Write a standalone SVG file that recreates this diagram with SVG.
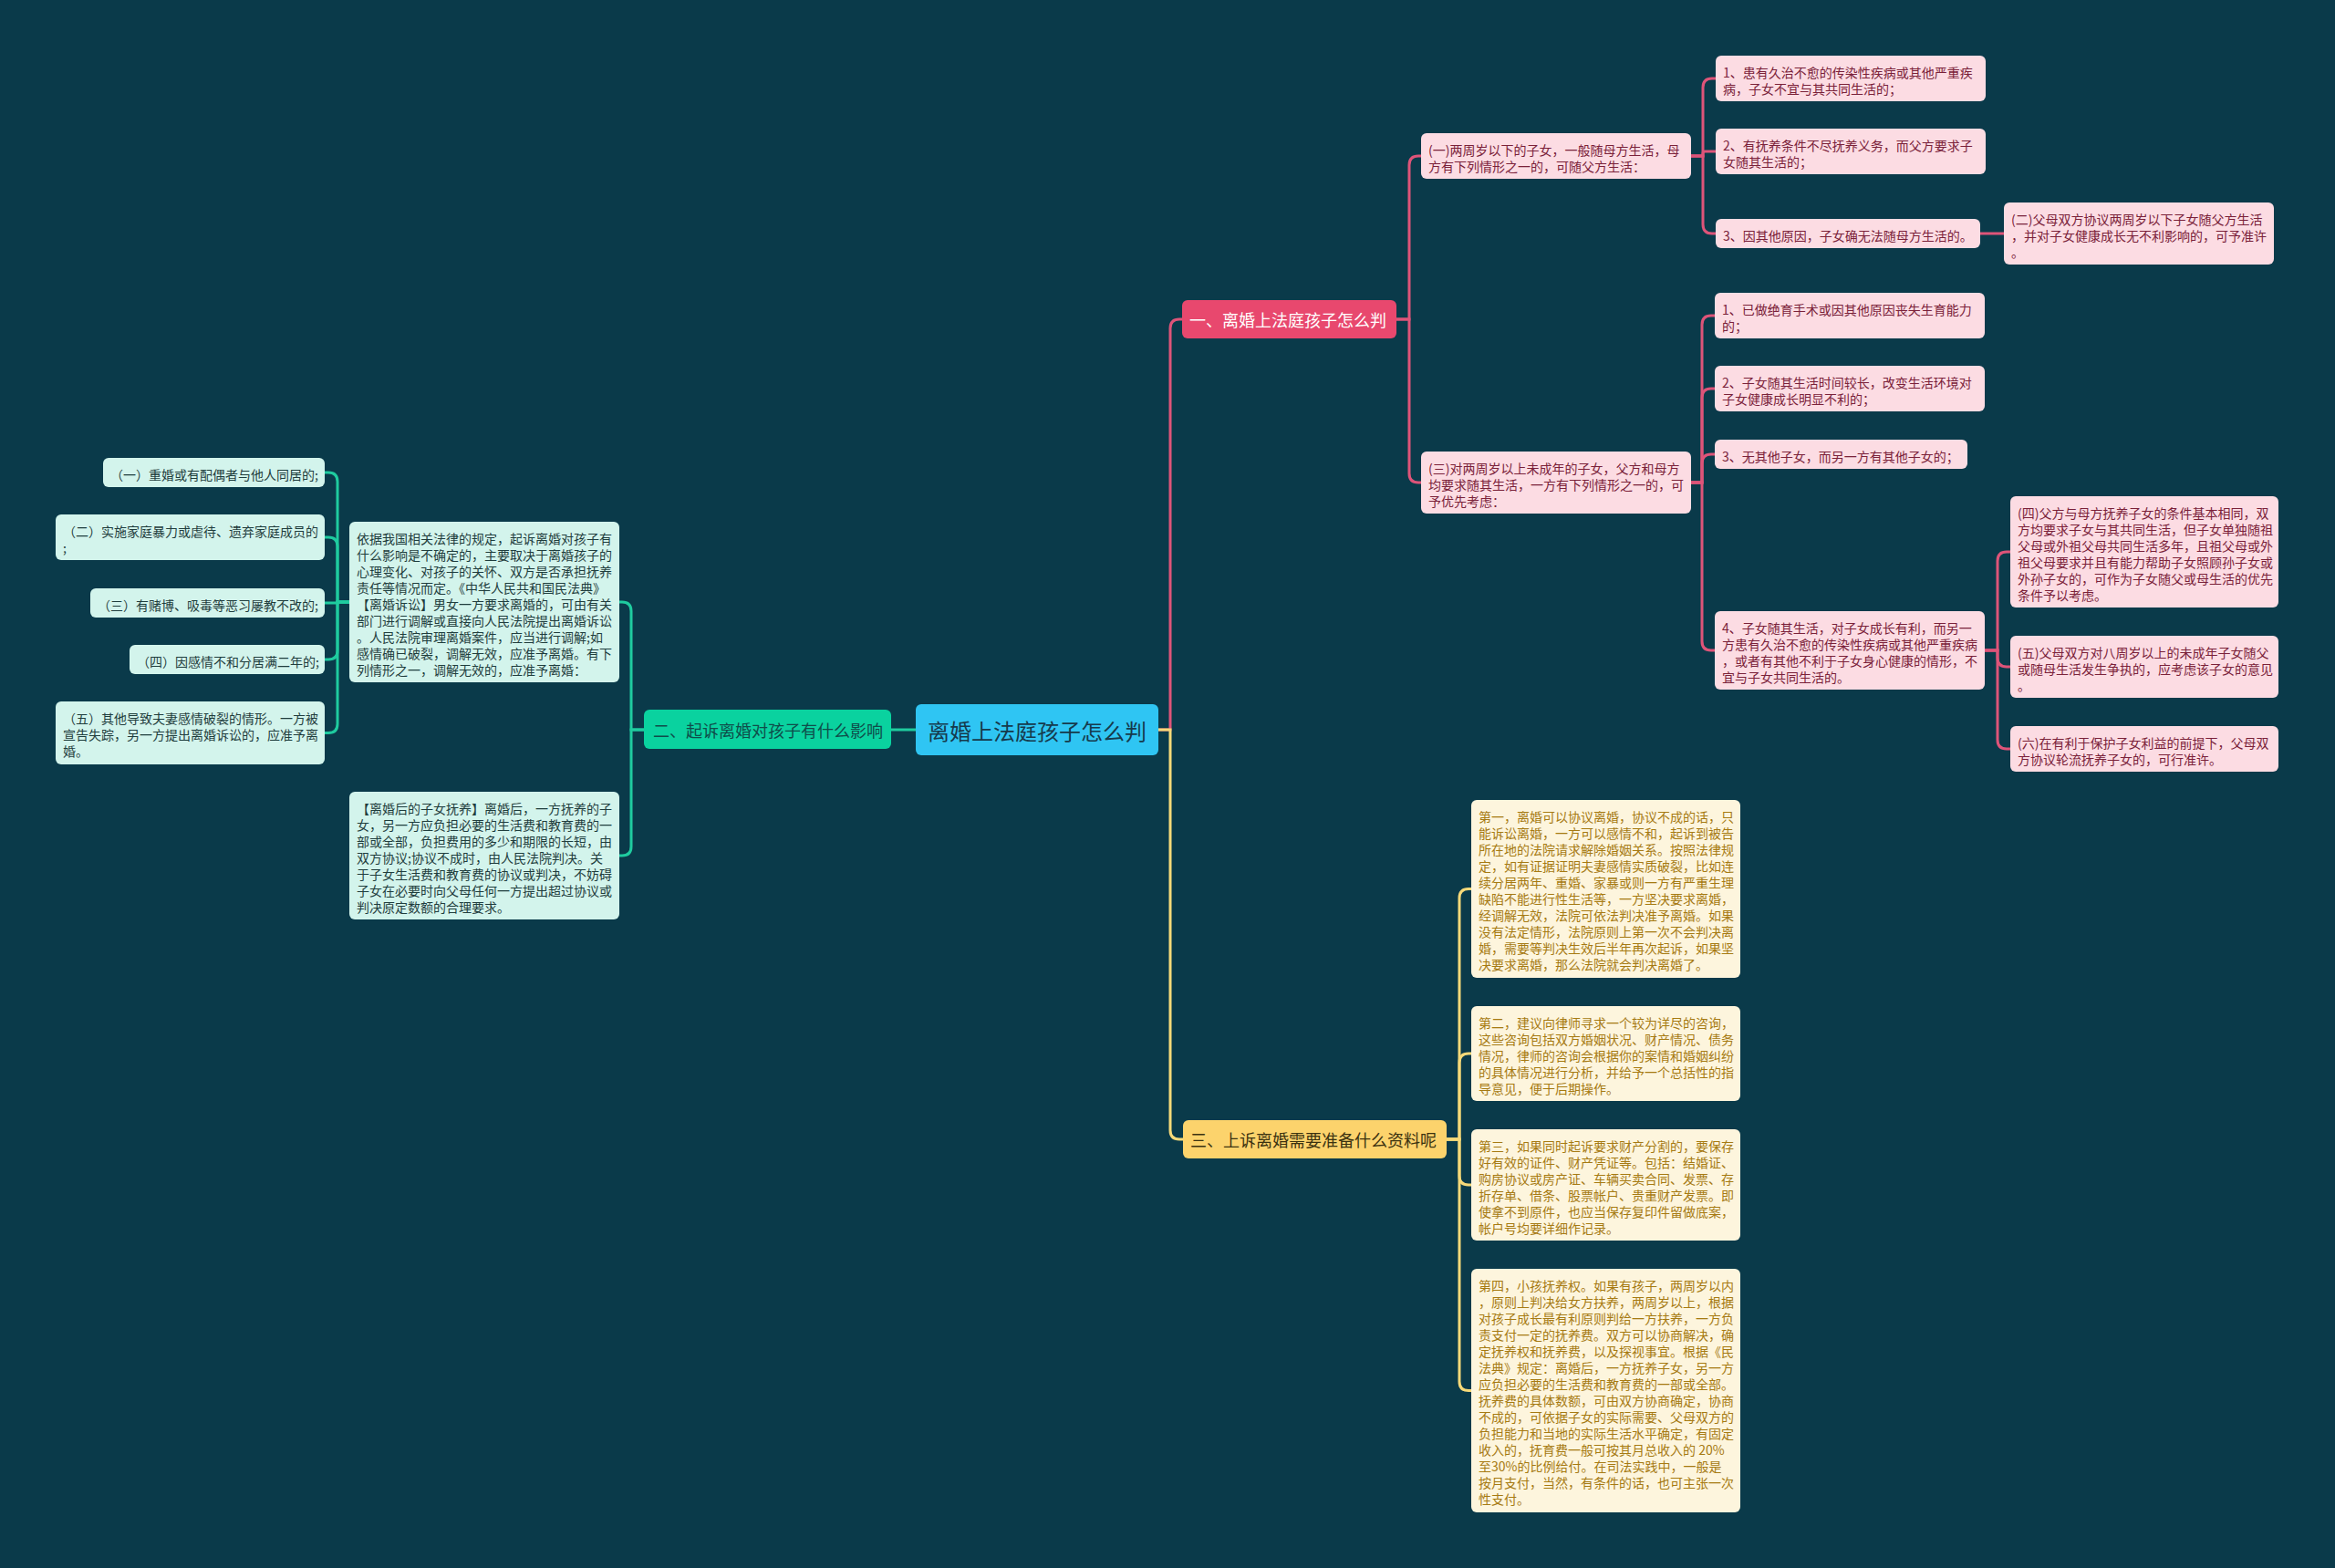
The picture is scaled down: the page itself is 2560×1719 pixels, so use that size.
<svg xmlns="http://www.w3.org/2000/svg" width="2560" height="1719" viewBox="0 0 2560 1719">
<style>
text{font-family:"Noto Sans CJK SC","Noto Sans",sans-serif;font-size:14px}
.pk{fill:#fcdce3}
.pt{fill:#7a2139}
.yl{fill:#fdf5dd}
.yt{fill:#a67a12}
.gn{fill:#d3f4ec}
.gt{fill:#1f3d3d}
.cp{fill:none;stroke:#de5479;stroke-width:3}
.cy{fill:none;stroke:#f6d979;stroke-width:3}
.cg{fill:none;stroke:#1fcb9f;stroke-width:3}
.br{font-size:18px}
</style>
<rect x="0" y="0" width="2560" height="1719" fill="#0a3a4a"/>

<g id="connectors">
<path class="cp" d="M1270 800 H1283 V360 Q1283 350 1293 350 H1296"/>
<path class="cy" d="M1270 800 H1283 V1239 Q1283 1249 1293 1249 H1297"/>
<path class="cg" d="M1004 800 H977"/>
<path class="cp" d="M1531 350 H1545 V181 Q1545 171 1555 171 H1559"/>
<path class="cp" d="M1531 350 H1545 V519 Q1545 529 1555 529 H1558"/>
<path class="cp" d="M1854 171 H1867 V96 Q1867 86 1877 86 H1881"/>
<path class="cp" d="M1854 171 H1867 V168.5 Q1867 166 1869.5 166 H1881"/>
<path class="cp" d="M1854 171 H1867 V246 Q1867 256 1877 256 H1881"/>
<path class="cp" d="M2171 256 H2197"/>
<path class="cp" d="M1854 529 H1866 V356 Q1866 346 1876 346 H1880"/>
<path class="cp" d="M1854 529 H1866 V436 Q1866 426 1876 426 H1880"/>
<path class="cp" d="M1854 529 H1866 V508 Q1866 498 1876 498 H1880"/>
<path class="cp" d="M1854 529 H1866 V703 Q1866 713 1876 713 H1880"/>
<path class="cp" d="M2176 713 H2190 V615 Q2190 605 2200 605 H2204"/>
<path class="cp" d="M2176 713 H2190 V721 Q2190 731 2200 731 H2204"/>
<path class="cp" d="M2176 713 H2190 V811 Q2190 821 2200 821 H2204"/>
<path class="cy" d="M1586 1249 H1600 V984.5 Q1600 974.5 1610 974.5 H1613"/>
<path class="cy" d="M1586 1249 H1600 V1165 Q1600 1155 1610 1155 H1613"/>
<path class="cy" d="M1586 1249 H1600 V1289 Q1600 1299 1610 1299 H1613"/>
<path class="cy" d="M1586 1249 H1600 V1514.5 Q1600 1524.5 1610 1524.5 H1613"/>
<path class="cg" d="M706 800 H692 V670 Q692 660 682 660 H679"/>
<path class="cg" d="M706 800 H692 V928 Q692 938 682 938 H679"/>
<path class="cg" d="M383 660 H370 V528 Q370 518 360 518 H356"/>
<path class="cg" d="M383 660 H370 V599 Q370 589 360 589 H356"/>
<path class="cg" d="M383 660 H370 V661 H356"/>
<path class="cg" d="M383 660 H370 V713 Q370 723 360 723 H356"/>
<path class="cg" d="M383 660 H370 V793.5 Q370 803.5 360 803.5 H356"/>
</g>

<g id="center">
<rect x="1004" y="772" width="266" height="56" rx="6" fill="#2fc5f3"/>
<text x="1137" y="800" text-anchor="middle" dominant-baseline="central" style="font-size:24px" fill="#163a4c">离婚上法庭孩子怎么判</text>
</g>

<g id="b1">
<rect x="1296" y="329" width="235" height="42" rx="6" fill="#e8486e"/>
<text class="br" x="1304" y="350" dominant-baseline="central" fill="#ffffff">一、离婚上法庭孩子怎么判</text>
</g>
<g id="b2">
<rect x="706" y="778" width="271" height="43" rx="6" fill="#0ad29f"/>
<text class="br" x="716" y="800" dominant-baseline="central" fill="#0f4d4a">二、起诉离婚对孩子有什么影响</text>
</g>
<g id="b3">
<rect x="1297" y="1228" width="289" height="42" rx="6" fill="#fcd36c"/>
<text class="br" x="1305" y="1249" dominant-baseline="central" fill="#3b3210">三、上诉离婚需要准备什么资料呢</text>
</g>

<g id="p-one">
<rect class="pk" x="1558" y="146" width="296" height="50" rx="6"/>
<text class="pt" x="1566" y="170">(一)两周岁以下的子女，一般随母方生活，母</text>
<text class="pt" x="1566" y="188">方有下列情形之一的，可随父方生活：</text>
</g>
<g id="p1">
<rect class="pk" x="1881" y="61" width="296" height="50" rx="6"/>
<text class="pt" x="1889" y="85">1、患有久治不愈的传染性疾病或其他严重疾</text>
<text class="pt" x="1889" y="103">病，子女不宜与其共同生活的；</text>
</g>
<g id="p2">
<rect class="pk" x="1881" y="141" width="296" height="50" rx="6"/>
<text class="pt" x="1889" y="165">2、有抚养条件不尽抚养义务，而父方要求子</text>
<text class="pt" x="1889" y="183">女随其生活的；</text>
</g>
<g id="p3">
<rect class="pk" x="1881" y="240" width="290" height="32" rx="6"/>
<text class="pt" x="1889" y="264">3、因其他原因，子女确无法随母方生活的。</text>
</g>
<g id="p-two">
<rect class="pk" x="2197" y="222" width="296" height="68" rx="6"/>
<text class="pt" x="2205" y="246">(二)父母双方协议两周岁以下子女随父方生活</text>
<text class="pt" x="2205" y="264">，并对子女健康成长无不利影响的，可予准许</text>
<text class="pt" x="2205" y="282">。</text>
</g>
<g id="p-three">
<rect class="pk" x="1558" y="495" width="296" height="68" rx="6"/>
<text class="pt" x="1566" y="519">(三)对两周岁以上未成年的子女，父方和母方</text>
<text class="pt" x="1566" y="537">均要求随其生活，一方有下列情形之一的，可</text>
<text class="pt" x="1566" y="555">予优先考虑：</text>
</g>
<g id="q1">
<rect class="pk" x="1880" y="321" width="296" height="50" rx="6"/>
<text class="pt" x="1888" y="345">1、已做绝育手术或因其他原因丧失生育能力</text>
<text class="pt" x="1888" y="363">的；</text>
</g>
<g id="q2">
<rect class="pk" x="1880" y="401" width="296" height="50" rx="6"/>
<text class="pt" x="1888" y="425">2、子女随其生活时间较长，改变生活环境对</text>
<text class="pt" x="1888" y="443">子女健康成长明显不利的；</text>
</g>
<g id="q3">
<rect class="pk" x="1880" y="482" width="277" height="32" rx="6"/>
<text class="pt" x="1888" y="506">3、无其他子女，而另一方有其他子女的；</text>
</g>
<g id="q4">
<rect class="pk" x="1880" y="670" width="296" height="86" rx="6"/>
<text class="pt" x="1888" y="694">4、子女随其生活，对子女成长有利，而另一</text>
<text class="pt" x="1888" y="712">方患有久治不愈的传染性疾病或其他严重疾病</text>
<text class="pt" x="1888" y="730">，或者有其他不利于子女身心健康的情形，不</text>
<text class="pt" x="1888" y="748">宜与子女共同生活的。</text>
</g>
<g id="r4">
<rect class="pk" x="2204" y="544" width="294" height="122" rx="6"/>
<text class="pt" x="2212" y="568">(四)父方与母方抚养子女的条件基本相同，双</text>
<text class="pt" x="2212" y="586">方均要求子女与其共同生活，但子女单独随祖</text>
<text class="pt" x="2212" y="604">父母或外祖父母共同生活多年，且祖父母或外</text>
<text class="pt" x="2212" y="622">祖父母要求并且有能力帮助子女照顾孙子女或</text>
<text class="pt" x="2212" y="640">外孙子女的，可作为子女随父或母生活的优先</text>
<text class="pt" x="2212" y="658">条件予以考虑。</text>
</g>
<g id="r5">
<rect class="pk" x="2204" y="697" width="294" height="68" rx="6"/>
<text class="pt" x="2212" y="721">(五)父母双方对八周岁以上的未成年子女随父</text>
<text class="pt" x="2212" y="739">或随母生活发生争执的，应考虑该子女的意见</text>
<text class="pt" x="2212" y="757">。</text>
</g>
<g id="r6">
<rect class="pk" x="2204" y="796" width="294" height="50" rx="6"/>
<text class="pt" x="2212" y="820">(六)在有利于保护子女利益的前提下，父母双</text>
<text class="pt" x="2212" y="838">方协议轮流抚养子女的，可行准许。</text>
</g>

<g id="y1">
<rect class="yl" x="1613" y="877" width="295" height="195" rx="6"/>
<text class="yt" x="1621" y="901">第一，离婚可以协议离婚，协议不成的话，只</text>
<text class="yt" x="1621" y="919">能诉讼离婚，一方可以感情不和，起诉到被告</text>
<text class="yt" x="1621" y="937">所在地的法院请求解除婚姻关系。按照法律规</text>
<text class="yt" x="1621" y="955">定，如有证据证明夫妻感情实质破裂，比如连</text>
<text class="yt" x="1621" y="973">续分居两年、重婚、家暴或则一方有严重生理</text>
<text class="yt" x="1621" y="991">缺陷不能进行性生活等，一方坚决要求离婚，</text>
<text class="yt" x="1621" y="1009">经调解无效，法院可依法判决准予离婚。如果</text>
<text class="yt" x="1621" y="1027">没有法定情形，法院原则上第一次不会判决离</text>
<text class="yt" x="1621" y="1045">婚，需要等判决生效后半年再次起诉，如果坚</text>
<text class="yt" x="1621" y="1063">决要求离婚，那么法院就会判决离婚了。</text>
</g>
<g id="y2">
<rect class="yl" x="1613" y="1103" width="295" height="104" rx="6"/>
<text class="yt" x="1621" y="1127">第二，建议向律师寻求一个较为详尽的咨询，</text>
<text class="yt" x="1621" y="1145">这些咨询包括双方婚姻状况、财产情况、债务</text>
<text class="yt" x="1621" y="1163">情况，律师的咨询会根据你的案情和婚姻纠纷</text>
<text class="yt" x="1621" y="1181">的具体情况进行分析，并给予一个总括性的指</text>
<text class="yt" x="1621" y="1199">导意见，便于后期操作。</text>
</g>
<g id="y3">
<rect class="yl" x="1613" y="1238" width="295" height="122" rx="6"/>
<text class="yt" x="1621" y="1262">第三，如果同时起诉要求财产分割的，要保存</text>
<text class="yt" x="1621" y="1280">好有效的证件、财产凭证等。包括：结婚证、</text>
<text class="yt" x="1621" y="1298">购房协议或房产证、车辆买卖合同、发票、存</text>
<text class="yt" x="1621" y="1316">折存单、借条、股票帐户、贵重财产发票。即</text>
<text class="yt" x="1621" y="1334">使拿不到原件，也应当保存复印件留做底案，</text>
<text class="yt" x="1621" y="1352">帐户号均要详细作记录。</text>
</g>
<g id="y4">
<rect class="yl" x="1613" y="1391" width="295" height="267" rx="6"/>
<text class="yt" x="1621" y="1415">第四，小孩抚养权。如果有孩子，两周岁以内</text>
<text class="yt" x="1621" y="1433">，原则上判决给女方扶养，两周岁以上，根据</text>
<text class="yt" x="1621" y="1451">对孩子成长最有利原则判给一方扶养，一方负</text>
<text class="yt" x="1621" y="1469">责支付一定的抚养费。双方可以协商解决，确</text>
<text class="yt" x="1621" y="1487">定抚养权和抚养费，以及探视事宜。根据《民</text>
<text class="yt" x="1621" y="1505">法典》规定：离婚后，一方抚养子女，另一方</text>
<text class="yt" x="1621" y="1523">应负担必要的生活费和教育费的一部或全部。</text>
<text class="yt" x="1621" y="1541">抚养费的具体数额，可由双方协商确定，协商</text>
<text class="yt" x="1621" y="1559">不成的，可依据子女的实际需要、父母双方的</text>
<text class="yt" x="1621" y="1577">负担能力和当地的实际生活水平确定，有固定</text>
<text class="yt" x="1621" y="1595">收入的，抚育费一般可按其月总收入的 20%</text>
<text class="yt" x="1621" y="1613">至30%的比例给付。在司法实践中，一般是</text>
<text class="yt" x="1621" y="1631">按月支付，当然，有条件的话，也可主张一次</text>
<text class="yt" x="1621" y="1649">性支付。</text>
</g>

<g id="g-basis">
<rect class="gn" x="383" y="572" width="296" height="176" rx="6"/>
<text class="gt" x="391" y="596">依据我国相关法律的规定，起诉离婚对孩子有</text>
<text class="gt" x="391" y="614">什么影响是不确定的，主要取决于离婚孩子的</text>
<text class="gt" x="391" y="632">心理变化、对孩子的关怀、双方是否承担抚养</text>
<text class="gt" x="391" y="650">责任等情况而定。《中华人民共和国民法典》</text>
<text class="gt" x="391" y="668">【离婚诉讼】男女一方要求离婚的，可由有关</text>
<text class="gt" x="391" y="686">部门进行调解或直接向人民法院提出离婚诉讼</text>
<text class="gt" x="391" y="704">。人民法院审理离婚案件，应当进行调解;如</text>
<text class="gt" x="391" y="722">感情确已破裂，调解无效，应准予离婚。有下</text>
<text class="gt" x="391" y="740">列情形之一，调解无效的，应准予离婚：</text>
</g>
<g id="g-after">
<rect class="gn" x="383" y="868" width="296" height="140" rx="6"/>
<text class="gt" x="391" y="892">【离婚后的子女抚养】离婚后，一方抚养的子</text>
<text class="gt" x="391" y="910">女，另一方应负担必要的生活费和教育费的一</text>
<text class="gt" x="391" y="928">部或全部，负担费用的多少和期限的长短，由</text>
<text class="gt" x="391" y="946">双方协议;协议不成时，由人民法院判决。关</text>
<text class="gt" x="391" y="964">于子女生活费和教育费的协议或判决，不妨碍</text>
<text class="gt" x="391" y="982">子女在必要时向父母任何一方提出超过协议或</text>
<text class="gt" x="391" y="1000">判决原定数额的合理要求。</text>
</g>
<g id="l1">
<rect class="gn" x="113" y="502" width="243" height="32" rx="6"/>
<text class="gt" x="121" y="526">（一）重婚或有配偶者与他人同居的;</text>
</g>
<g id="l2">
<rect class="gn" x="61" y="564" width="295" height="50" rx="6"/>
<text class="gt" x="69" y="588">（二）实施家庭暴力或虐待、遗弃家庭成员的</text>
<text class="gt" x="69" y="606">;</text>
</g>
<g id="l3">
<rect class="gn" x="99" y="645" width="257" height="32" rx="6"/>
<text class="gt" x="107" y="669">（三）有赌博、吸毒等恶习屡教不改的;</text>
</g>
<g id="l4">
<rect class="gn" x="142" y="707" width="214" height="32" rx="6"/>
<text class="gt" x="150" y="731">（四）因感情不和分居满二年的;</text>
</g>
<g id="l5">
<rect class="gn" x="61" y="769" width="295" height="69" rx="6"/>
<text class="gt" x="69" y="793">（五）其他导致夫妻感情破裂的情形。一方被</text>
<text class="gt" x="69" y="811">宣告失踪，另一方提出离婚诉讼的，应准予离</text>
<text class="gt" x="69" y="829">婚。</text>
</g>
</svg>
